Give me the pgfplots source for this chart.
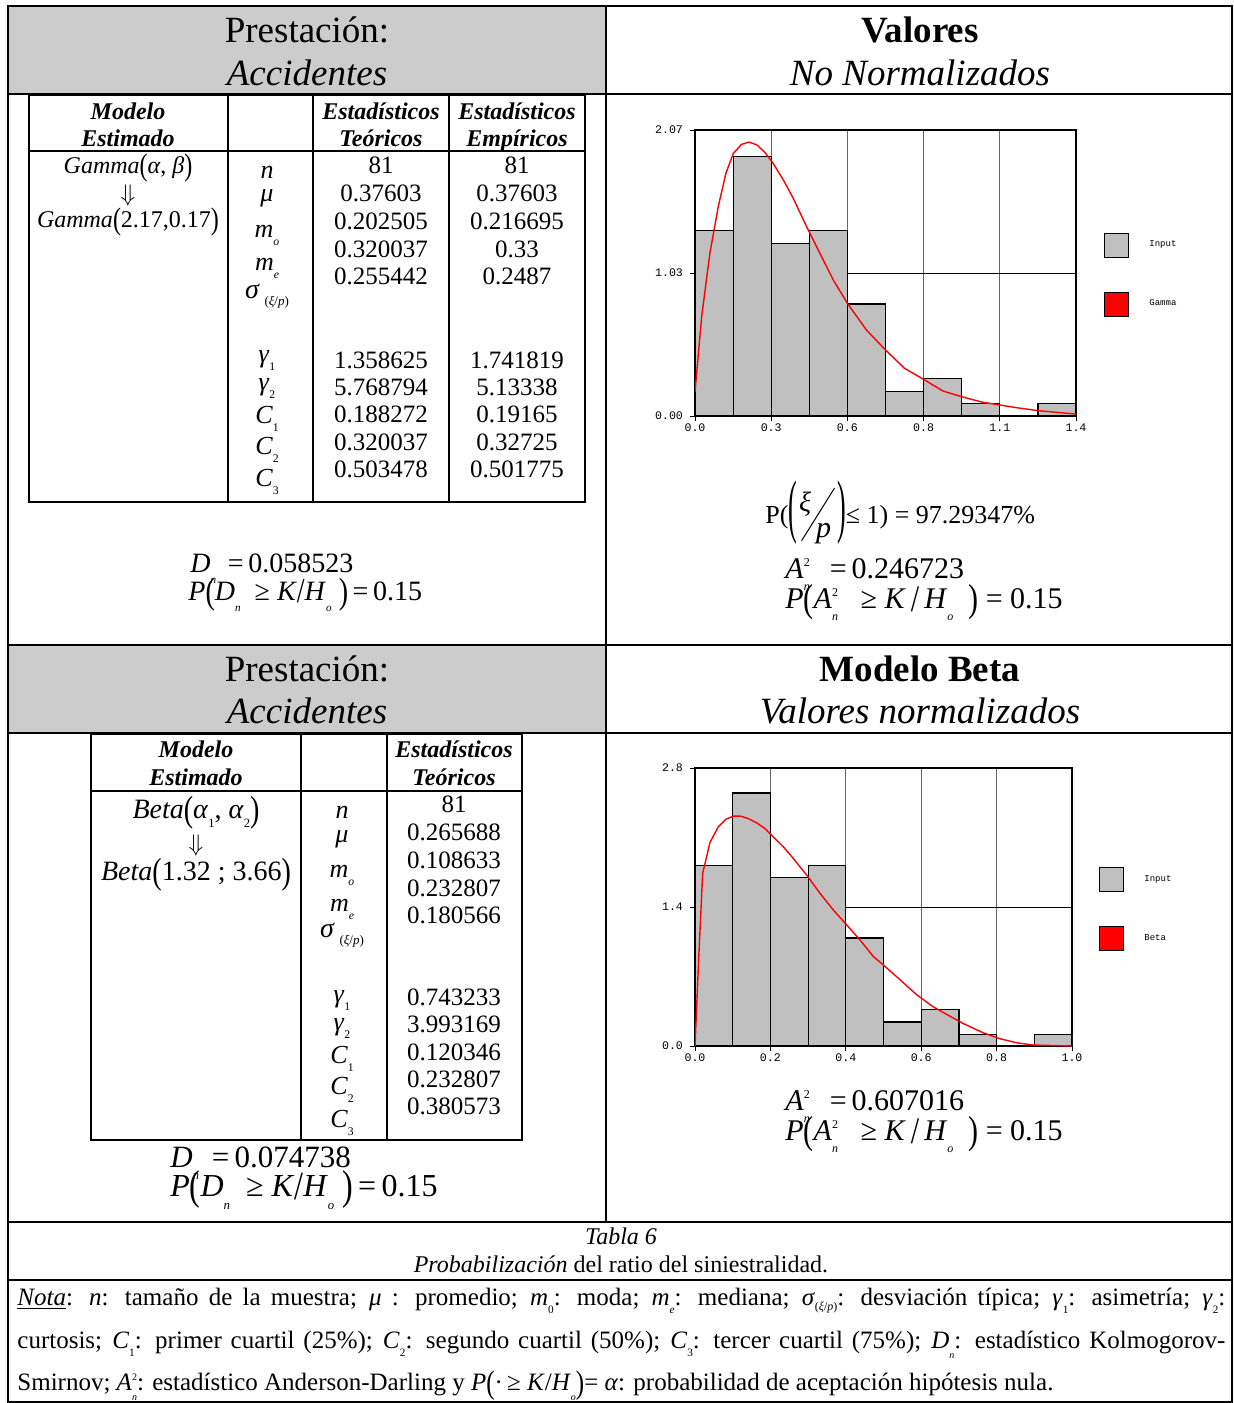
\documentclass[border=0pt]{standalone}
\usepackage{fontspec}
\setmainfont{Liberation Serif}
\setmonofont{Liberation Mono}
\usepackage{graphicx}
\usepackage{pgfplots}
\pgfplotsset{compat=1.18}
\definecolor{hdrgray}{RGB}{204,204,204}
\definecolor{bargray}{RGB}{192,192,192}
\newcommand{\fs}[1]{\fontsize{#1}{#1}\selectfont}
\newcommand{\sub}[1]{\raisebox{-0.75ex}{\scalebox{0.45}{#1}}}
\newcommand{\bpl}{\raisebox{-0.12em}{\scalebox{1}[1.3]{(}}}
\newcommand{\bpr}{\raisebox{-0.12em}{\scalebox{1}[1.3]{)}}}
\newcommand{\Ann}{\textit{A}\rlap{\raisebox{0.85ex}{\scalebox{0.4}{2}}}\raisebox{-0.9ex}{\scalebox{0.4}{\textit{n}}}}
\newcommand{\Dn}{\textit{D}\raisebox{-0.9ex}{\scalebox{0.4}{\textit{n}}}}
\newcommand{\Ho}{\textit{H}\raisebox{-0.9ex}{\scalebox{0.4}{\textit{o}}}}
\newcommand{\PKH}[1]{\textit{P}\bpl #1\ \ ≥ \textit{K}\raisebox{-0.1em}{\scalebox{1}[1.25]{/}}\Ho\ \bpr\,=\,0.15}
\newcommand{\PKHA}[1]{\textit{P}\bpl #1\ \ \ ≥ \textit{K}\,\raisebox{-0.1em}{\scalebox{1}[1.25]{/}}\,\Ho\ \ \bpr\ =\ 0.15}
\begin{document}
\begin{tikzpicture}[x=0.5pt,y=-0.5pt]
\useasboundingbox (0,0) rectangle (1233,1403);
\fill[white] (0,0) rectangle (1233,1403);
% header fills
\fill[hdrgray] (8,6) rectangle (606,94);
\fill[hdrgray] (8,645) rectangle (606,733);
% frame lines
\begin{scope}[line width=1pt]
\draw (8,6) rectangle (1232,1402);
\draw (8,94) -- (1232,94);
\draw (8,645) -- (1232,645);
\draw (8,733) -- (1232,733);
\draw (8,1222) -- (1232,1222);
\draw (8,1280) -- (1232,1280);
\draw (606,6) -- (606,1222);
% inner table 1
\draw (29,95) rectangle (585,502);
\draw (228,95) -- (228,502);
\draw (313,95) -- (313,502);
\draw (449,95) -- (449,502);
\draw (29,151) -- (585,151);
% inner table 2
\draw (91,734) rectangle (522,1140);
\draw (301,734) -- (301,1140);
\draw (387,734) -- (387,1140);
\draw (91,791) -- (522,791);
\end{scope}
% headers
\begin{scope}[every node/.style={anchor=base,inner sep=0pt}]
\node at (307,42) {\fs{18.5}Prestación:};
\node at (307,85) {\fs{18.5}\textit{Accidentes}};
\node at (920,42) {\fs{18.5}\textbf{Valores}};
\node at (920,85) {\fs{18.5}\textit{No Normalizados}};
\node at (307,681) {\fs{18.5}Prestación:};
\node at (307,723) {\fs{18.5}\textit{Accidentes}};
\node at (920,681) {\fs{18.5}\textbf{Modelo Beta}};
\node at (920,723) {\fs{18.5}\textit{Valores normalizados}};
% table 1 header
\node at (128,119) {\fs{12}\textbf{\textit{Modelo}}};
\node at (128,146) {\fs{12}\textbf{\textit{Estimado}}};
\node at (381,119) {\fs{12}\textbf{\textit{Estadísticos}}};
\node at (381,146) {\fs{12}\textbf{\textit{Teóricos}}};
\node at (517,119) {\fs{12}\textbf{\textit{Estadísticos}}};
\node at (517,146) {\fs{12}\textbf{\textit{Empíricos}}};
\node at (128,173) {\fs{12}\textit{Gamma}\bpl\textit{α}, \textit{β}\bpr};
\node at (128,201) {\fs{12}$\Downarrow$};
\node at (128,227) {\fs{12}\textit{Gamma}\bpl 2.17,0.17\bpr};
% symbols
\node at (267,178) {\fs{13}\textit{n}};
\node at (267,201) {\fs{13}\textit{μ}};
\node at (267,237) {\fs{13}\textit{m}\sub{\textit{o}}};
\node at (267,270) {\fs{13}\textit{m}\sub{\textit{e}}};
\node at (267,298) {\fs{14}\textit{σ}\,\raisebox{-0.6ex}{\fs{6.5}(\textit{ξ}/\textit{p})}};
\node at (267,362) {\fs{13}\textit{γ}\sub{1}};
\node at (267,390) {\fs{13}\textit{γ}\sub{2}};
\node at (267,423) {\fs{13}\textit{C}\sub{1}};
\node at (267,454) {\fs{13}\textit{C}\sub{2}};
\node at (267,486) {\fs{13}\textit{C}\sub{3}};
% values
\foreach \v/\y in {81/173,0.37603/201,0.202505/229,0.320037/257,0.255442/284,1.358625/368,5.768794/395,0.188272/422,0.320037/450,0.503478/477}
  \node at (381,\y) {\fs{12.5}\v};
\foreach \v/\y in {81/173,0.37603/201,0.216695/229,0.33/257,0.2487/284,1.741819/368,5.13338/395,0.19165/422,0.32725/450,0.501775/477}
  \node at (517,\y) {\fs{12.5}\v};
% table 2 header
\node at (196,757) {\fs{12}\textbf{\textit{Modelo}}};
\node at (196,785) {\fs{12}\textbf{\textit{Estimado}}};
\node at (454,757) {\fs{12}\textbf{\textit{Estadísticos}}};
\node at (454,785) {\fs{12}\textbf{\textit{Teóricos}}};
\node at (196,818) {\fs{14}\textit{Beta}\bpl\textit{α}\sub{1}, \textit{α}\sub{2}\bpr};
\node at (196,851) {\fs{13}$\Downarrow$};
\node at (196,880) {\fs{14}\textit{Beta}\bpl 1.32 ; 3.66\bpr};
\node at (342,818) {\fs{13}\textit{n}};
\node at (342,842) {\fs{13}\textit{μ}};
\node at (342,877) {\fs{13}\textit{m}\sub{\textit{o}}};
\node at (342,911) {\fs{13}\textit{m}\sub{\textit{e}}};
\node at (342,937) {\fs{14}\textit{σ}\,\raisebox{-0.6ex}{\fs{6.5}(\textit{ξ}/\textit{p})}};
\node at (342,1002) {\fs{13}\textit{γ}\sub{1}};
\node at (342,1030) {\fs{13}\textit{γ}\sub{2}};
\node at (342,1063) {\fs{13}\textit{C}\sub{1}};
\node at (342,1094) {\fs{13}\textit{C}\sub{2}};
\node at (342,1127) {\fs{13}\textit{C}\sub{3}};
\foreach \v/\y in {81/812,0.265688/840,0.108633/868,0.232807/896,0.180566/923,0.743233/1005,3.993169/1032,0.120346/1060,0.232807/1087,0.380573/1114}
  \node at (454,\y) {\fs{12.5}\v};
% caption
\node at (621,1244) {\fs{12}\textit{Tabla 6}};
\node at (621,1272) {\fs{12}\textit{Probabilización} del ratio del siniestralidad.};
\end{scope}
% formulas
\begin{scope}[every node/.style={anchor=base west,inner sep=0pt}]
\node at (190,572) {\fs{14}\Dn\ \,=\,0.058523};
\node at (188,600) {\fs{14}\PKH{\Dn}};
\node at (170,1167) {\fs{15.5}\Dn\ \,=\,0.074738};
\node at (170,1196) {\fs{16}\PKH{\Dn}};
\node at (765,523) {\fs{13}P(\raisebox{-3pt}{\scalebox{1}[2.7]{(}}\hspace{1pt}\makebox[18pt][l]{\rlap{\raisebox{6pt}{\fs{14}\textit{ξ}}}\rlap{\hspace{1pt}\raisebox{-9pt}{\rotatebox{58}{\rule{31pt}{0.5pt}}}}\hspace{8.5pt}\raisebox{-7pt}{\fs{15}\textit{p}}}\hspace{1pt}\raisebox{-3pt}{\scalebox{1}[2.7]{)}}≤ 1) = 97.29347\%};
\node at (785,578) {\fs{15}\Ann\ \ \,=\,0.246723};
\node at (785,608) {\fs{15}\PKHA{\Ann}};
\node at (785,1110) {\fs{15}\Ann\ \ \,=\,0.607016};
\node at (785,1140) {\fs{15}\PKHA{\Ann}};
% note
\node at (17,1305) {\fs{12.5}\makebox[604pt][s]{\underline{\textit{Nota}}: \textit{n}: tamaño de la muestra; \textit{μ} : promedio; \textit{m}\sub{0}: moda; \textit{m}\sub{\textit{e}}: mediana; \textit{σ}\raisebox{-0.5ex}{\fs{6}(\textit{ξ}/\textit{p})}: desviación típica; \textit{γ}\sub{1}: asimetría; \textit{γ}\sub{2}:}};
\node at (17,1348) {\fs{12.5}\makebox[604pt][s]{curtosis; \textit{C}\sub{1}: primer cuartil (25\%); \textit{C}\sub{2}: segundo cuartil (50\%); \textit{C}\sub{3}: tercer cuartil (75\%); \Dn: estadístico Kolmogorov-}};
\node at (17,1390) {\fs{12.5}Smirnov; \Ann: estadístico Anderson-Darling y \textit{P}\bpl·\,≥ \textit{K}/\Ho\bpr = \textit{α}: probabilidad de aceptación hipótesis nula.};
\end{scope}
% histogram styles
\pgfplotsset{histo/.style={
  scale only axis, anchor=south west,
  xmajorgrids, ymajorgrids,
  x grid style={draw=black!60, line width=0.6pt},
  y grid style={draw=black, line width=0.5pt},
  axis line style={line width=0.6pt},
  tick pos=left, tick align=outside, major tick length=2.5pt,
  tick style={black, line width=0.4pt},
  ticklabel style={font=\ttfamily\fs{5.8}},
  xticklabel style={yshift=2pt},
  legend style={draw=none, fill=none, inner sep=0pt, anchor=north west,
     font=\ttfamily\fs{4.5}, row sep=17pt, cells={anchor=west},
     /tikz/every odd column/.append style={column sep=8pt}},
}}
\begin{axis}[histo, at={(347.5pt,-208pt)}, width=190.5pt, height=143pt,
  xmin=0, xmax=1.4, ymin=0, ymax=2.07,
  xtick={0,0.28,0.56,0.84,1.12,1.4}, xticklabels={0.0,0.3,0.6,0.8,1.1,1.4},
  ytick={0,1.035,2.07}, yticklabels={0.00,1.03,2.07},
  legend style={at={(axis description cs:1.0735,0.643)}}]
\addplot[ybar interval, fill=bargray, draw=black, line width=0.6pt,
  legend image code/.code={\draw[draw=black,fill=bargray,line width=0.5pt] (0pt,-6pt) rectangle (12pt,6pt);}]
  coordinates {(0,1.34) (0.14,1.88) (0.28,1.25) (0.42,1.34) (0.56,0.81) (0.70,0.18) (0.84,0.27) (0.98,0.09) (1.12,0) (1.26,0.09) (1.40,0.09)};
\addlegendentry{Input}
\addplot[red, line width=0.7pt,
  legend image code/.code={\draw[draw=black,fill=red,line width=0.5pt] (0pt,-6pt) rectangle (12pt,6pt);}]
  coordinates {(0,0.176) (0.0245,0.719) (0.0546,1.177) (0.0854,1.515) (0.1134,1.756) (0.1407,1.901) (0.1708,1.966) (0.1988,1.983) (0.2282,1.961) (0.2576,1.906) (0.287,1.829) (0.3248,1.708) (0.3612,1.575) (0.4102,1.370) (0.4592,1.177) (0.5082,0.984) (0.56,0.815) (0.63,0.622) (0.70,0.478) (0.77,0.345) (0.84,0.265) (0.911,0.181) (0.979,0.140) (1.058,0.099) (1.12,0.080) (1.182,0.060) (1.26,0.039) (1.40,0.014)};
\addlegendentry{Gamma}
\end{axis}
\begin{axis}[histo, at={(347.5pt,-523pt)}, width=188.5pt, height=139pt,
  xmin=0, xmax=1, ymin=0, ymax=2.8,
  xtick={0,0.2,0.4,0.6,0.8,1.0}, xticklabels={0.0,0.2,0.4,0.6,0.8,1.0},
  ytick={0,1.4,2.8}, yticklabels={0.0,1.4,2.8},
  legend style={at={(axis description cs:1.0716,0.644)}}]
\addplot[ybar interval, fill=bargray, draw=black, line width=0.6pt,
  legend image code/.code={\draw[draw=black,fill=bargray,line width=0.5pt] (0pt,-6pt) rectangle (12pt,6pt);}]
  coordinates {(0,1.816) (0.1,2.549) (0.2,1.696) (0.3,1.816) (0.4,1.087) (0.5,0.241) (0.6,0.365) (0.7,0.120) (0.8,0) (0.9,0.120) (1.0,0.120)};
\addlegendentry{Input}
\addplot[red, line width=0.7pt,
  legend image code/.code={\draw[draw=black,fill=red,line width=0.5pt] (0pt,-6pt) rectangle (12pt,6pt);}]
  coordinates {(0,0) (0.0097,0.870) (0.0203,1.739) (0.0398,2.051) (0.0618,2.208) (0.0822,2.285) (0.1016,2.315) (0.121,2.315) (0.1413,2.291) (0.1634,2.248) (0.1855,2.191) (0.2076,2.107) (0.2341,2.007) (0.2606,1.890) (0.2959,1.723) (0.3313,1.539) (0.3666,1.371) (0.4019,1.221) (0.4373,1.070) (0.4726,0.903) (0.5035,0.803) (0.5433,0.669) (0.5875,0.518) (0.6316,0.395) (0.6758,0.301) (0.7111,0.227) (0.7641,0.134) (0.8083,0.074) (0.8525,0.033) (0.8966,0.010) (1.0,0)};
\addlegendentry{Beta}
\end{axis}
\end{tikzpicture}
\end{document}
